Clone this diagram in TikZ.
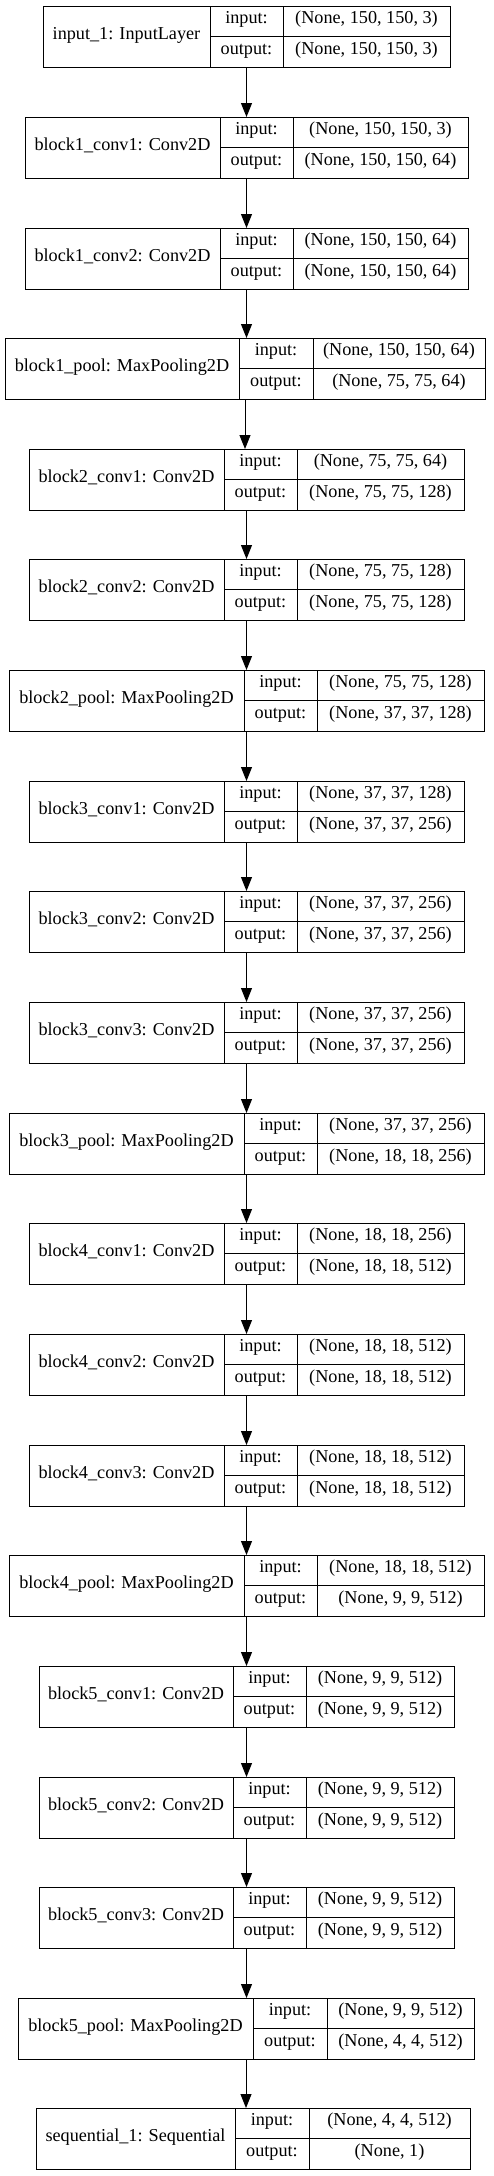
\documentclass[tikz,border=0pt]{standalone}
\usepackage{fontspec}
\setmainfont{Liberation Serif}
\usetikzlibrary{positioning}
\usetikzlibrary{fit}
\usetikzlibrary{arrows.meta}

% one layer record: #1 node name, #2 label, #3 input shape, #4 output shape,
% #5 top, #6 left edge, #7 first split, #8 second split, #9 right edge
\newcommand{\layerrec}[9]{
  \node[namebox, minimum width={(#7-#6)*1pt}, anchor=north west] (#1-name) at (#6,#5) {#2};
  \node[fieldbox, minimum width={(#8-#7)*1pt}, anchor=north west] (#1-in) at (#1-name.north east) {input:};
  \node[fieldbox, minimum width={(#8-#7)*1pt}, below=0 of #1-in] (#1-out) {output:};
  \node[fieldbox, minimum width={(#9-#8)*1pt}, right=0 of #1-in] (#1-ishape) {#3};
  \node[fieldbox, minimum width={(#9-#8)*1pt}, right=0 of #1-out] (#1-oshape) {#4};
  \node[fit=(#1-name)(#1-oshape), inner sep=0, outer sep=0] (#1) {};
}

\begin{document}
\begin{tikzpicture}[
    x=1pt, y=-1pt,
    recbox/.style={draw=black, line width=1pt, inner sep=0, outer sep=0,
      font=\fontsize{18.2}{22}\selectfont, text height=0.68em, text depth=0.18em},
    namebox/.style={recbox, minimum height=61pt},
    fieldbox/.style={recbox, minimum height=30.5pt},
    dedge/.style={-{Triangle[length=14pt, width=11pt]}, line width=1pt, draw=black}
]
\useasboundingbox (0,0) rectangle (493,2176);

% Layers
\layerrec{input}{input\_1: InputLayer}{(None, 150, 150, 3)}{(None, 150, 150, 3)}{6}{43}{210}{283}{450}
\layerrec{b1conv1}{block1\_conv1: Conv2D}{(None, 150, 150, 3)}{(None, 150, 150, 64)}{117}{25}{220}{293}{468}
\layerrec{b1conv2}{block1\_conv2: Conv2D}{(None, 150, 150, 64)}{(None, 150, 150, 64)}{228}{25}{220}{293}{468}
\layerrec{b1pool}{block1\_pool: MaxPooling2D}{(None, 150, 150, 64)}{(None, 75, 75, 64)}{338}{5}{239}{313}{485}
\layerrec{b2conv1}{block2\_conv1: Conv2D}{(None, 75, 75, 64)}{(None, 75, 75, 128)}{449}{29}{224}{297}{464}
\layerrec{b2conv2}{block2\_conv2: Conv2D}{(None, 75, 75, 128)}{(None, 75, 75, 128)}{559}{29}{224}{297}{464}
\layerrec{b2pool}{block2\_pool: MaxPooling2D}{(None, 75, 75, 128)}{(None, 37, 37, 128)}{670}{9}{244}{317}{484}
\layerrec{b3conv1}{block3\_conv1: Conv2D}{(None, 37, 37, 128)}{(None, 37, 37, 256)}{781}{29}{224}{297}{464}
\layerrec{b3conv2}{block3\_conv2: Conv2D}{(None, 37, 37, 256)}{(None, 37, 37, 256)}{891}{29}{224}{297}{464}
\layerrec{b3conv3}{block3\_conv3: Conv2D}{(None, 37, 37, 256)}{(None, 37, 37, 256)}{1002}{29}{224}{297}{464}
\layerrec{b3pool}{block3\_pool: MaxPooling2D}{(None, 37, 37, 256)}{(None, 18, 18, 256)}{1113}{9}{244}{317}{484}
\layerrec{b4conv1}{block4\_conv1: Conv2D}{(None, 18, 18, 256)}{(None, 18, 18, 512)}{1223}{29}{224}{297}{464}
\layerrec{b4conv2}{block4\_conv2: Conv2D}{(None, 18, 18, 512)}{(None, 18, 18, 512)}{1334}{29}{224}{297}{464}
\layerrec{b4conv3}{block4\_conv3: Conv2D}{(None, 18, 18, 512)}{(None, 18, 18, 512)}{1445}{29}{224}{297}{464}
\layerrec{b4pool}{block4\_pool: MaxPooling2D}{(None, 18, 18, 512)}{(None, 9, 9, 512)}{1555}{9}{244}{317}{484}
\layerrec{b5conv1}{block5\_conv1: Conv2D}{(None, 9, 9, 512)}{(None, 9, 9, 512)}{1666}{39}{233}{306}{454}
\layerrec{b5conv2}{block5\_conv2: Conv2D}{(None, 9, 9, 512)}{(None, 9, 9, 512)}{1777}{39}{233}{306}{454}
\layerrec{b5conv3}{block5\_conv3: Conv2D}{(None, 9, 9, 512)}{(None, 9, 9, 512)}{1887}{39}{233}{306}{454}
\layerrec{b5pool}{block5\_pool: MaxPooling2D}{(None, 9, 9, 512)}{(None, 4, 4, 512)}{1998}{18}{253}{327}{474}
\layerrec{seq}{sequential\_1: Sequential}{(None, 4, 4, 512)}{(None, 1)}{2108}{36}{235}{309}{470}

% Edges
\foreach \a/\b in {input/b1conv1, b1conv1/b1conv2, b1conv2/b1pool, b1pool/b2conv1,
    b2conv1/b2conv2, b2conv2/b2pool, b2pool/b3conv1, b3conv1/b3conv2, b3conv2/b3conv3,
    b3conv3/b3pool, b3pool/b4conv1, b4conv1/b4conv2, b4conv2/b4conv3, b4conv3/b4pool,
    b4pool/b5conv1, b5conv1/b5conv2, b5conv2/b5conv3, b5conv3/b5pool, b5pool/seq}
  \draw [dedge] (\a.south) -- (\a.south |- \b.north);

\end{tikzpicture}
\end{document}
